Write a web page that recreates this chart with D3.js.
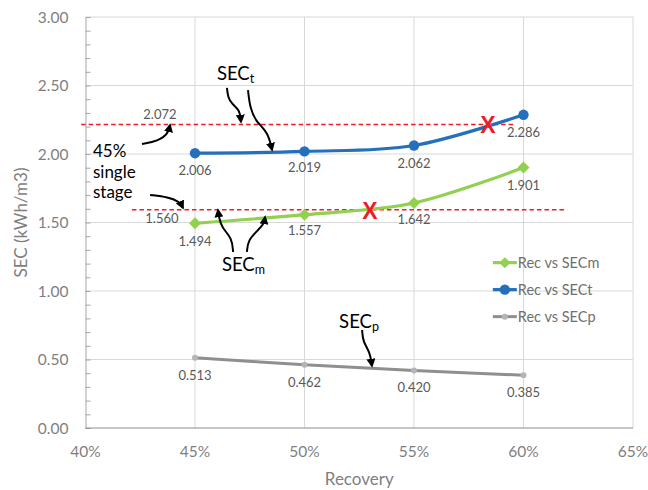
<!DOCTYPE html>
<html>
<head>
<meta charset="utf-8">
<script src="https://cdn.jsdelivr.net/npm/d3@7"></script>
<style>
  body { margin: 0; background: #fff; }
  svg { display: block; font-family: Lato, "Open Sans", sans-serif; }
</style>
</head>
<body>
<div id="chart"></div>
<script>
// Data
const recovery = [0.45, 0.50, 0.55, 0.60];
const secT = [2.006, 2.019, 2.062, 2.286];
const secM = [1.494, 1.557, 1.642, 1.901];
const secP = [0.513, 0.462, 0.420, 0.385];
const xTicks = [0.40, 0.45, 0.50, 0.55, 0.60, 0.65];
const yTicks = [0, 0.5, 1, 1.5, 2, 2.5, 3];

// single stage reference levels (dashed) and crossing marks, in data units
const refLines = [
  { y: 2.215, x0: 0.398, x1: 0.596 },
  { y: 1.593, x0: 0.4212, x1: 0.6199 }
];
const crossMarks = [[0.5838, 2.212], [0.5299, 1.584]];
const refLabels = [
  { text: "2.072", x: 0.434, y: 2.255 },
  { text: "1.560", x: 0.4349, y: 1.496 }
];

// annotation arrows (data units)
const arrows = [
  [[0.4646, 2.482], [0.4651, 2.409], [0.4669, 2.365], [0.4705, 2.321], [0.4710, 2.234]],
  [[0.4742, 2.467], [0.4751, 2.336], [0.4779, 2.234], [0.4833, 2.161], [0.4852, 2.029]],
  [[0.4258, 2.073], [0.4331, 2.095], [0.4377, 2.146], [0.4386, 2.212]],
  [[0.4295, 1.701], [0.4377, 1.686], [0.4432, 1.650], [0.4445, 1.606]],
  [[0.4674, 1.285], [0.4669, 1.387], [0.4623, 1.460], [0.4610, 1.533], [0.4605, 1.591]],
  [[0.4737, 1.285], [0.4742, 1.372], [0.4788, 1.445], [0.4815, 1.489], [0.4820, 1.540]],
  [[0.5263, 0.715], [0.5267, 0.628], [0.5299, 0.555], [0.5308, 0.453]]
];

const width = 648, height = 490;
const margin = { top: 17, right: 15, bottom: 62, left: 85.5 };

const svg = d3.select("#chart").append("svg")
  .attr("width", width).attr("height", height);

const x = d3.scaleLinear().domain([0.40, 0.65]).range([margin.left, width - margin.right]);
const y = d3.scaleLinear().domain([0, 3]).range([height - margin.bottom, margin.top]);

const defs = svg.append("defs");
defs.append("marker")
  .attr("id", "head")
  .attr("viewBox", "0 0 10 10")
  .attr("refX", 8).attr("refY", 5)
  .attr("markerWidth", 4.5).attr("markerHeight", 4.5)
  .attr("orient", "auto")
  .append("path").attr("d", "M0,0 L10,5 L0,10 Z").attr("fill", "#000");

// Gridlines
svg.append("g").selectAll("line.h")
  .data(yTicks.slice(1)).join("line")
  .attr("x1", x(0.40)).attr("x2", x(0.65))
  .attr("y1", d => y(d)).attr("y2", d => y(d))
  .attr("stroke", "#d9d9d9");
svg.append("g").selectAll("line.v")
  .data(xTicks.slice(1)).join("line")
  .attr("x1", d => x(d)).attr("x2", d => x(d))
  .attr("y1", y(0)).attr("y2", y(3))
  .attr("stroke", "#d9d9d9");

// Y axis with minor ticks inside
const yAxis = svg.append("g")
  .attr("transform", `translate(${x(0.40)},0)`)
  .call(d3.axisRight(y).tickValues(d3.range(0, 3.001, 0.1)).tickSize(5).tickFormat(""));
yAxis.select(".domain").attr("stroke", "#a6a6a6");
yAxis.selectAll(".tick line").attr("stroke", "#a6a6a6");

svg.append("g").selectAll("text")
  .data(yTicks).join("text")
  .attr("x", x(0.40) - 17).attr("y", d => y(d) + 5.5)
  .attr("text-anchor", "end")
  .attr("font-size", 15.5).attr("fill", "#7f7f7f")
  .text(d3.format(".2f"));

// X axis
svg.append("line")
  .attr("x1", x(0.40)).attr("x2", x(0.65))
  .attr("y1", y(0)).attr("y2", y(0))
  .attr("stroke", "#8c8c8c");
svg.append("g").selectAll("text")
  .data(xTicks).join("text")
  .attr("x", d => x(d)).attr("y", y(0) + 29)
  .attr("text-anchor", "middle")
  .attr("font-size", 15.5).attr("fill", "#7f7f7f")
  .text(d3.format(".0%"));

svg.append("text")
  .attr("x", (x(0.40) + x(0.65)) / 2).attr("y", y(0) + 57)
  .attr("text-anchor", "middle")
  .attr("font-size", 17).attr("fill", "#7f7f7f")
  .text("Recovery");
svg.append("text")
  .attr("transform", `translate(27,${(y(0) + y(3)) / 2}) rotate(-90)`)
  .attr("text-anchor", "middle")
  .attr("font-size", 17).attr("fill", "#7f7f7f")
  .text("SEC (kWh/m3)");

// Red dashed reference lines
svg.append("g").selectAll("line")
  .data(refLines).join("line")
  .attr("x1", d => x(d.x0)).attr("x2", d => x(d.x1))
  .attr("y1", d => y(d.y)).attr("y2", d => y(d.y))
  .attr("stroke", "#ee1c25").attr("stroke-width", 1.6)
  .attr("stroke-dasharray", "4.5,3");

// Series
const series = [
  { name: "Rec vs SECm", values: secM, color: "#92d050", width: 3.2, marker: "diamond", mcolor: "#92d050", size: 12, offs: [23, 20, 21, 22] },
  { name: "Rec vs SECt", values: secT, color: "#2470bd", width: 3.2, marker: "circle", mcolor: "#2470bd", size: 5.2, offs: [22, 21, 22, 22] },
  { name: "Rec vs SECp", values: secP, color: "#8f8f8f", width: 3, marker: "circle", mcolor: "#b5b5b5", size: 3, offs: [22, 22, 22, 22] }
];

const line = d3.line().x(d => x(d[0])).y(d => y(d[1])).curve(d3.curveCardinal.tension(0));

function drawMarker(sel, s, cx, cy) {
  if (s.marker === "diamond") {
    const h = s.size / 2;
    sel.append("path")
      .attr("d", `M${cx},${cy - h} L${cx + h},${cy} L${cx},${cy + h} L${cx - h},${cy} Z`)
      .attr("fill", s.mcolor);
  } else {
    sel.append("circle").attr("cx", cx).attr("cy", cy).attr("r", s.size).attr("fill", s.mcolor);
  }
}

series.forEach(s => {
  const pts = recovery.map((r, i) => [r, s.values[i]]);
  const g = svg.append("g");
  g.append("path").datum(pts)
    .attr("d", line).attr("fill", "none")
    .attr("stroke", s.color).attr("stroke-width", s.width);
  pts.forEach(p => drawMarker(g, s, x(p[0]), y(p[1])));
  g.selectAll("text").data(pts).join("text")
    .attr("x", d => x(d[0])).attr("y", (d, i) => y(d[1]) + s.offs[i])
    .attr("text-anchor", "middle")
    .attr("font-size", 13).attr("fill", "#595959")
    .text(d => d3.format(".3f")(d[1]));
});

// Crossing marks
svg.append("g").selectAll("text")
  .data(crossMarks).join("text")
  .attr("x", d => x(d[0])).attr("y", d => y(d[1]) + 8)
  .attr("text-anchor", "middle")
  .attr("font-size", 23).attr("font-weight", "bold").attr("fill", "#ee1c25")
  .attr("font-family", "Liberation Sans, Arial, sans-serif")
  .text("X");

svg.append("g").selectAll("text")
  .data(refLabels).join("text")
  .attr("x", d => x(d.x)).attr("y", d => y(d.y))
  .attr("text-anchor", "middle")
  .attr("font-size", 13).attr("fill", "#595959")
  .text(d => d.text);

// Annotation text
const ann = svg.append("g").attr("fill", "#000");
[["45%", 1.978], ["single", 1.828], ["stage", 1.678]].forEach(([t, v]) => {
  ann.append("text").attr("x", x(0.4034)).attr("y", y(v)).attr("font-size", 17).text(t);
});
[["t", 0.4600, 2.540], ["m", 0.4623, 1.146], ["p", 0.5158, 0.730]].forEach(([sub, xv, yv]) => {
  const t = ann.append("text").attr("x", x(xv)).attr("y", y(yv)).attr("font-size", 18.5);
  t.append("tspan").text("SEC");
  t.append("tspan").attr("font-size", 12.5).attr("dy", 3).text(sub);
});

// Arrows
const arrowLine = d3.line().x(d => x(d[0])).y(d => y(d[1])).curve(d3.curveBasis);
svg.append("g").selectAll("path")
  .data(arrows).join("path")
  .attr("d", arrowLine)
  .attr("fill", "none").attr("stroke", "#000").attr("stroke-width", 2)
  .attr("marker-end", "url(#head)");

// Legend
const legend = svg.append("g").attr("transform", `translate(${x(0.586)},${y(1.207)})`);
series.forEach((s, i) => {
  const row = legend.append("g").attr("transform", `translate(0,${i * 27})`);
  row.append("line").attr("x1", 0).attr("x2", 24).attr("y1", 0).attr("y2", 0)
    .attr("stroke", s.color).attr("stroke-width", s.width);
  drawMarker(row, s.marker === "diamond" ? { ...s, size: 11 } : s, 12, 0);
  row.append("text").attr("x", 25).attr("y", 5)
    .attr("font-size", 14.5).attr("fill", "#6f6f6f")
    .text(s.name);
});
</script>
</body>
</html>
